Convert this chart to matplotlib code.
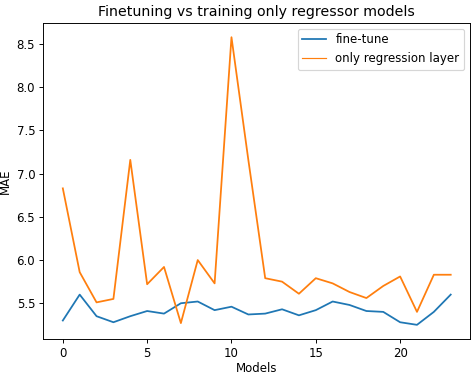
import numpy as np
import matplotlib.pyplot as plt

models = np.arange(24)
fine_tune = [5.30, 5.60, 5.35, 5.28, 5.35, 5.41, 5.38, 5.50, 5.52, 5.42,
             5.46, 5.37, 5.38, 5.43, 5.36, 5.42, 5.52, 5.48, 5.41, 5.40,
             5.28, 5.25, 5.40, 5.60]
only_regression = [6.83, 5.86, 5.51, 5.55, 7.16, 5.72, 5.92, 5.27, 6.00, 5.73,
                   8.58, 7.16, 5.79, 5.75, 5.61, 5.79, 5.73, 5.63, 5.56, 5.70,
                   5.81, 5.40, 5.83, 5.83]

fig = plt.figure(figsize=(472/85, 374/85), dpi=85)
ax = fig.add_axes([0.092, 0.093, 0.904, 0.846])
ax.plot(models, fine_tune, label="fine-tune")
ax.plot(models, only_regression, label="only regression layer")
ax.set_xlabel("Models", labelpad=1)
ax.set_ylabel("MAE")
ax.set_title("Finetuning vs training only regressor models")
leg = ax.legend(loc="upper right")
leg.get_lines()[1].set_linewidth(1.0)   # legend shows the orange one thinner
fig.savefig("out.png", dpi=85)
